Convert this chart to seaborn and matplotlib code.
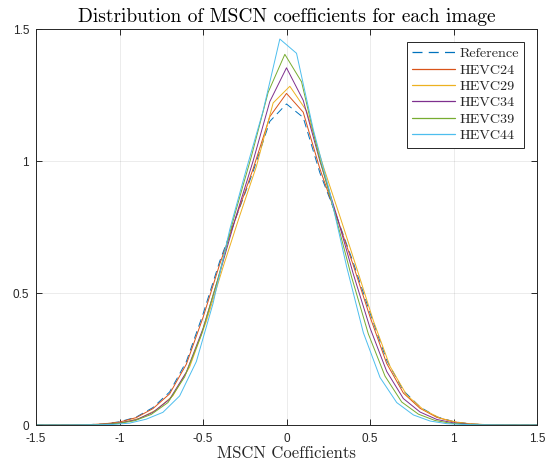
import numpy as np
import pandas as pd
import matplotlib
matplotlib.use("Agg")
import matplotlib.pyplot as plt
from matplotlib.lines import Line2D
import seaborn as sns

# ---- data ----
series_names = ["Reference", "HEVC24", "HEVC29", "HEVC34", "HEVC39", "HEVC44"]
# first bin centre of each series (bin width 0.1)
x_start = {"Reference": -1.5, "HEVC24": -1.5, "HEVC29": -1.58,
           "HEVC34": -1.5, "HEVC39": -1.51, "HEVC44": -1.54}
bin_width = 0.1

ref_vals = [0, 0, 0.0005, 0.001, 0.004, 0.012, 0.03, 0.066, 0.125, 0.24, 0.42,
            0.62, 0.79, 0.96, 1.15, 1.216, 1.165, 0.955, 0.79, 0.615, 0.425,
            0.245, 0.13, 0.068, 0.031, 0.013, 0.004, 0.0015, 0.0005, 0, 0]
hevc24_vals = [0, 0, 0.0004, 0.001, 0.004, 0.011, 0.028, 0.062, 0.118, 0.23, 0.407,
               0.609, 0.791, 0.97, 1.168, 1.256, 1.185, 0.97, 0.79, 0.605, 0.41,
               0.233, 0.121, 0.063, 0.029, 0.012, 0.004, 0.0012, 0.0004, 0, 0]
hevc29_vals = [0, 0, 0, 0.0004, 0.001, 0.0035, 0.01, 0.025, 0.057, 0.111, 0.22,
               0.393, 0.598, 0.793, 0.98, 1.22, 1.283, 1.19, 0.98, 0.79, 0.595,
               0.395, 0.222, 0.113, 0.058, 0.026, 0.01, 0.0035, 0.001, 0.0003, 0, 0]
hevc34_vals = [0, 0, 0.0002, 0.0005, 0.0025, 0.0075, 0.02, 0.048, 0.0975, 0.2, 0.365,
               0.575, 0.795, 1.0, 1.225, 1.353, 1.23, 1.0, 0.795, 0.572, 0.368,
               0.203, 0.1, 0.049, 0.021, 0.008, 0.0025, 0.0006, 0.0002, 0, 0]
hevc39_vals = [0, 0, 0, 0.0003, 0.0018, 0.0055, 0.016, 0.04, 0.085, 0.182, 0.341,
               0.555, 0.797, 1.018, 1.26, 1.404, 1.30, 1.03, 0.80, 0.56, 0.345,
               0.185, 0.087, 0.041, 0.017, 0.006, 0.002, 0.0004, 0.0001, 0, 0, 0]
hevc44_vals = [0, 0, 0, 0.0003, 0.0008, 0.002, 0.007, 0.022, 0.048, 0.11, 0.24,
               0.46, 0.74, 0.97, 1.19, 1.462, 1.408, 1.12, 0.88, 0.6, 0.35,
               0.18, 0.085, 0.038, 0.015, 0.005, 0.002, 0.0006, 0.0002, 0, 0, 0]

values = {"Reference": ref_vals, "HEVC24": hevc24_vals, "HEVC29": hevc29_vals,
          "HEVC34": hevc34_vals, "HEVC39": hevc39_vals, "HEVC44": hevc44_vals}

colors = {"Reference": "#0072BD", "HEVC24": "#D95319", "HEVC29": "#EDB120",
          "HEVC34": "#7E2F8E", "HEVC39": "#77AC30", "HEVC44": "#4DBEEE"}

x_ticks = [-1.5, -1, -0.5, 0, 0.5, 1, 1.5]
y_ticks = [0, 0.5, 1, 1.5]
x_tick_labels = ["-1.5", "-1", "-0.5", "0", "0.5", "1", "1.5"]
y_tick_labels = ["0", "0.5", "1", "1.5"]

# ---- build a long table ----
rows = []
for name in series_names:
    v = values[name]
    xs = x_start[name] + bin_width * np.arange(len(v))
    for xx, yy in zip(xs, v):
        rows.append({"series": name, "x": xx, "y": yy})
df = pd.DataFrame(rows)

# ---- plot ----
sns.set_theme(style="white")
plt.rcParams["axes.unicode_minus"] = False
plt.rcParams["font.family"] = ["Liberation Sans", "DejaVu Sans"]

fig = plt.figure(figsize=(5.48, 4.70), dpi=100)
ax = fig.add_axes([36 / 548, 1 - 425 / 470, (537 - 36) / 548, (425 - 29) / 470])

styles = {}
for name in series_names:
    sub = df[df["series"] == name]
    ls = (0, (8, 5)) if name == "Reference" else "-"
    styles[name] = ls
    sns.lineplot(data=sub, x="x", y="y", ax=ax, color=colors[name],
                 linewidth=0.7, linestyle=ls, sort=True, estimator=None,
                 legend=False)

ax.set_xlim(-1.5, 1.5)
ax.set_ylim(0, 1.5)
ax.set_xticks(x_ticks)
ax.set_xticklabels(x_tick_labels)
ax.set_yticks(y_ticks)
ax.set_yticklabels(y_tick_labels)
ax.grid(True, color="#262626", alpha=0.09, linewidth=0.7)
ax.tick_params(direction="in", length=4, width=0.7, colors="#262626",
               labelsize=8.5, top=True, right=True, bottom=True, left=True,
               labelcolor="#262626")
ax.tick_params(axis="x", pad=6)
ax.tick_params(axis="y", pad=5)
for sp in ax.spines.values():
    sp.set_color("#262626")
    sp.set_linewidth(0.7)
ax.set_xlabel("MSCN Coefficients", fontfamily="cmr10", fontsize=12,
              color="#262626", labelpad=0)
ax.set_ylabel("")
ax.set_title("Distribution of MSCN coefficients for each image",
             fontfamily="cmr10", fontsize=14, color="black", pad=5)

handles = [Line2D([0], [0], color=colors[n], linewidth=0.9, linestyle=styles[n])
           for n in series_names]
leg = ax.legend(handles, series_names, loc="upper right",
                prop={"family": "cmr10", "size": 10.2},
                frameon=True, fancybox=False, handlelength=3.0,
                handletextpad=0.3, labelspacing=0.24, borderpad=0.4,
                borderaxespad=0.9)
leg.get_frame().set_edgecolor("#262626")
leg.get_frame().set_linewidth(0.7)
leg.get_frame().set_alpha(1)

fig.savefig("out.png", dpi=100)
